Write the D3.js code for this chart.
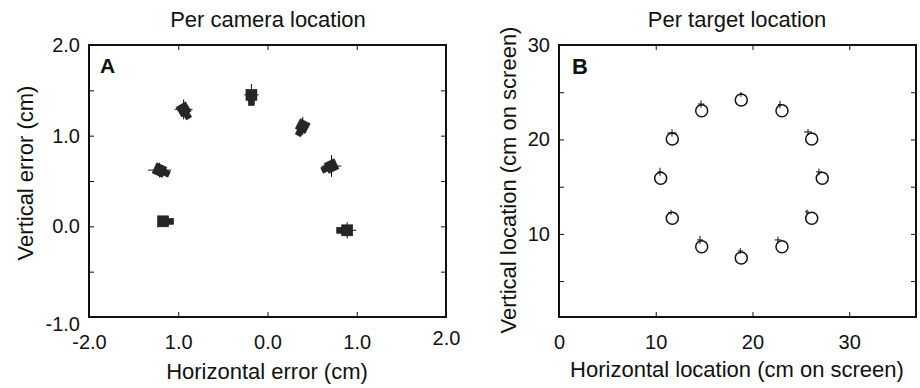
<!DOCTYPE html>
<html>
<head>
<meta charset="utf-8">
<script src="https://cdn.jsdelivr.net/npm/d3@7"></script>
<style>
    body { margin: 0; background: #fff; }
    svg { display: block; }
    text { font-family: "Liberation Sans", Arial, Helvetica, sans-serif; fill: #111; }
</style>
</head>
<body>
<div id="chart"></div>
<script>
// Panel A: mean error per camera location (cm)
const camX = [-0.18, -0.94, -1.21, -1.17, 0.395, 0.717, 0.893];
const camY = [1.45, 1.29, 0.62, 0.055, 1.106, 0.665, -0.044];
const camAngle = [90, 59, 24, 0, 117, 155, 180];   // direction the lens faces
const camErrX = [0.08, 0.10, 0.13, 0.05, 0.06, 0.11, 0.10];
const camErrY = [0.12, 0.11, 0.08, 0.05, 0.10, 0.12, 0.09];

// Panel B: target locations and mean gaze per target (cm on screen)
const targetX = [18.84, 14.75, 23.05, 11.71, 26.12, 10.51, 27.21, 11.71, 26.12, 14.75, 23.05, 18.84];
const targetY = [24.18, 23.04, 23.04, 20.05, 20.05, 15.89, 15.89, 11.65, 11.65, 8.64, 8.64, 7.45];
const gazeX = [18.81, 14.68, 22.84, 11.68, 25.74, 10.44, 26.87, 11.58, 25.63, 14.57, 22.63, 18.74];
const gazeY = [24.76, 23.75, 23.70, 20.69, 20.79, 16.56, 16.56, 12.27, 12.33, 9.36, 9.36, 8.19];
const gazeErrX = [0.30, 0.34, 0.20, 0.48, 0.41, 0.26, 0.31, 0.31, 0.20, 0.31, 0.34, 0.26];
const gazeErrY = [0.26, 0.39, 0.40, 0.39, 0.32, 0.44, 0.36, 0.26, 0.26, 0.44, 0.35, 0.30];

// ticks
const aXTicks = [-2, -1, 0, 1, 2];
const aXTickLabels = ["-2.0", "1.0", "0.0", "1.0", "2.0"];
const aYTicks = [-1, -0.5, 0, 0.5, 1, 1.5, 2];
const aYTickLabels = ["-1.0", "", "0.0", "", "1.0", "", "2.0"];
const bXTicks = [0, 10, 20, 30];
const bXTickLabels = ["0", "10", "20", "30"];
const bYTicks = [5, 10, 15, 20, 25, 30];
const bYTickLabels = ["", "10", "", "20", "", "30"];

const width = 920, height = 388;
const plotTop = 45, plotBottom = 317;

const svg = d3.select("#chart").append("svg")
    .attr("width", width)
    .attr("height", height);

function drawFrame(x, y, xTicks, xLabels, yTicks, yLabels) {
    const g = svg.append("g");
    const [x0, x1] = x.range();
    const [y0, y1] = y.range();

    const styleAxis = sel => {
        sel.select(".domain").remove();
        sel.selectAll(".tick line").attr("stroke", "#111").attr("stroke-width", 1);
        sel.selectAll("text")
            .attr("font-family", "\"Liberation Sans\", Arial, Helvetica, sans-serif")
            .attr("font-size", 20)
            .attr("fill", "#111");
    };

    g.append("g")
        .attr("class", "x-axis")
        .attr("transform", `translate(0,${y0})`)
        .call(d3.axisBottom(x).tickValues(xTicks)
            .tickFormat((d, i) => xLabels[i])
            .tickSizeInner(-5).tickSizeOuter(0).tickPadding(18))
        .call(styleAxis);

    g.append("g")
        .attr("transform", `translate(0,${y1})`)
        .call(d3.axisTop(x).tickValues(xTicks).tickFormat("")
            .tickSizeInner(-5).tickSizeOuter(0))
        .call(styleAxis);

    g.append("g")
        .attr("class", "y-axis")
        .attr("transform", `translate(${x0},0)`)
        .call(d3.axisLeft(y).tickValues(yTicks)
            .tickFormat((d, i) => yLabels[i])
            .tickSizeInner(-5).tickSizeOuter(0).tickPadding(9))
        .call(styleAxis);

    g.append("g")
        .attr("transform", `translate(${x1},0)`)
        .call(d3.axisRight(y).tickValues(yTicks).tickFormat("")
            .tickSizeInner(-5).tickSizeOuter(0))
        .call(styleAxis);

    g.append("rect")
        .attr("x", x0)
        .attr("y", y1)
        .attr("width", x1 - x0)
        .attr("height", y0 - y1)
        .attr("fill", "none")
        .attr("stroke", "#111")
        .attr("stroke-width", 2);

    return g;
}

function addText(x, y, str, opts = {}) {
    return svg.append("text")
        .attr("x", x)
        .attr("y", y)
        .attr("text-anchor", opts.anchor || "middle")
        .attr("font-size", opts.size || 22)
        .attr("font-weight", opts.bold ? "bold" : null)
        .attr("transform", opts.rotate ? `rotate(-90,${x},${y})` : null)
        .text(str);
}

// ---- Panel A ----
const xA = d3.scaleLinear().domain([-2, 2]).range([89, 446]);
const yA = d3.scaleLinear().domain([-1, 2]).range([plotBottom, plotTop]);
const frameA = drawFrame(xA, yA, aXTicks, aXTickLabels, aYTicks, aYTickLabels);

// matlab-ish label nudges at the corners
frameA.select(".x-axis").selectAll(".tick text").filter(d => d === 2).attr("transform", "translate(0,-4)");
frameA.select(".y-axis").selectAll(".tick text").filter(d => d === -1).attr("transform", "translate(0,7)");

const cams = camX.map((d, i) => ({
    x: d, y: camY[i], angle: camAngle[i], ex: camErrX[i], ey: camErrY[i]
}));

const camG = svg.append("g").attr("class", "cameras");

camG.selectAll(".err-x")
    .data(cams).enter().append("line")
    .attr("class", "err-x")
    .attr("x1", d => xA(d.x - d.ex)).attr("x2", d => xA(d.x + d.ex))
    .attr("y1", d => yA(d.y)).attr("y2", d => yA(d.y))
    .attr("stroke", "#111").attr("stroke-width", 1);

camG.selectAll(".err-y")
    .data(cams).enter().append("line")
    .attr("class", "err-y")
    .attr("x1", d => xA(d.x)).attr("x2", d => xA(d.x))
    .attr("y1", d => yA(d.y - d.ey)).attr("y2", d => yA(d.y + d.ey))
    .attr("stroke", "#111").attr("stroke-width", 1);

const camMarks = camG.selectAll(".cam")
    .data(cams).enter().append("g")
    .attr("class", "cam")
    .attr("transform", d => `translate(${xA(d.x)},${yA(d.y)}) rotate(${d.angle})`);

camMarks.append("rect")
    .attr("x", -5.5).attr("y", -5.5)
    .attr("width", 11).attr("height", 11)
    .attr("fill", "#262626").attr("stroke", "#1a1a1a").attr("stroke-width", 0.6);

camMarks.append("rect")
    .attr("x", 5.5).attr("y", -3)
    .attr("width", 5).attr("height", 6)
    .attr("fill", "#262626").attr("stroke", "#1a1a1a").attr("stroke-width", 0.6);

addText(268, 27, "Per camera location");
addText(267, 379, "Horizontal error (cm)");
addText(33, 173, "Vertical error (cm)", {rotate: true});
addText(100, 73, "A", {anchor: "start", size: 21, bold: true});

// ---- Panel B ----
const xB = d3.scaleLinear().domain([0, 36.9]).range([559, 916]);
const yB = d3.scaleLinear().domain([1.2, 30]).range([plotBottom, plotTop]);
drawFrame(xB, yB, bXTicks, bXTickLabels, bYTicks, bYTickLabels);

const targets = targetX.map((d, i) => ({
    tx: d, ty: targetY[i], gx: gazeX[i], gy: gazeY[i], ex: gazeErrX[i], ey: gazeErrY[i]
}));

const tgtG = svg.append("g").attr("class", "targets");

tgtG.selectAll("circle")
    .data(targets).enter().append("circle")
    .attr("cx", d => xB(d.tx))
    .attr("cy", d => yB(d.ty))
    .attr("r", 6)
    .attr("fill", "none")
    .attr("stroke", "#111")
    .attr("stroke-width", 1.5);

tgtG.selectAll(".gaze-x")
    .data(targets).enter().append("line")
    .attr("class", "gaze-x")
    .attr("x1", d => xB(d.gx - d.ex)).attr("x2", d => xB(d.gx + d.ex))
    .attr("y1", d => yB(d.gy)).attr("y2", d => yB(d.gy))
    .attr("stroke", "#111").attr("stroke-width", 1);

tgtG.selectAll(".gaze-y")
    .data(targets).enter().append("line")
    .attr("class", "gaze-y")
    .attr("x1", d => xB(d.gx)).attr("x2", d => xB(d.gx))
    .attr("y1", d => yB(d.gy - d.ey)).attr("y2", d => yB(d.gy + d.ey))
    .attr("stroke", "#111").attr("stroke-width", 1);

addText(737, 27, "Per target location");
addText(737, 377, "Horizontal location (cm on screen)");
addText(516, 180, "Vertical location (cm on screen)", {rotate: true});
addText(572, 74, "B", {anchor: "start", size: 22, bold: true});
</script>
</body>
</html>
